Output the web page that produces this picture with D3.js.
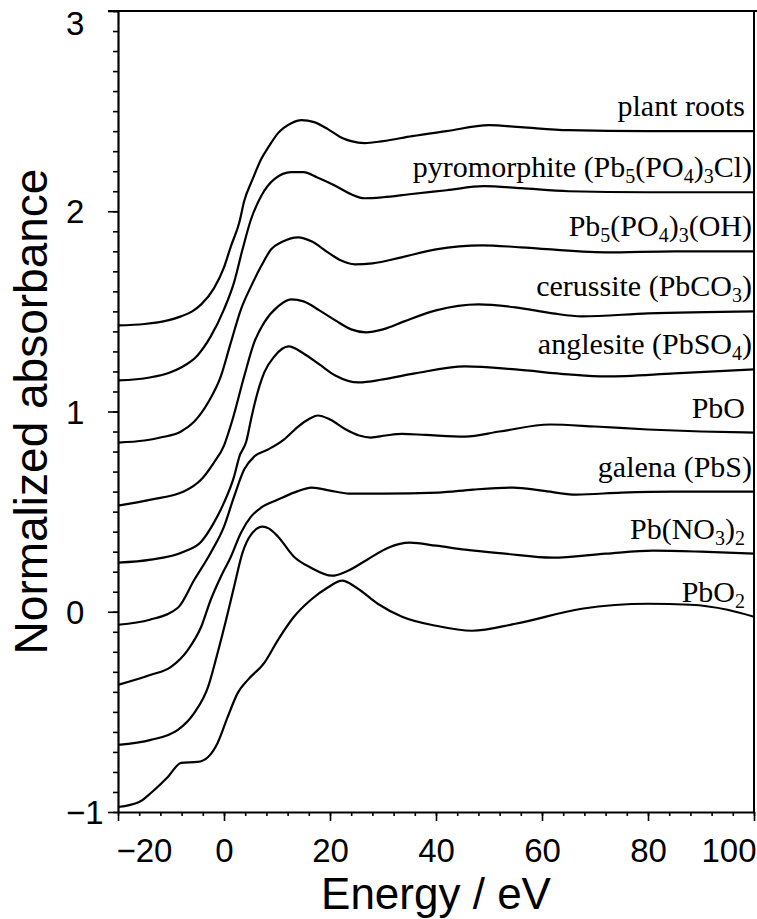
<!DOCTYPE html>
<html>
<head>
<meta charset="utf-8">
<script src="https://cdnjs.cloudflare.com/ajax/libs/d3/7.8.5/d3.min.js"></script>
<style>
body { margin: 0; background: #fff; }
</style>
</head>
<body>
<div id="chart-area"></div>
<script>
// Pb L3-edge XANES spectra, [energy / eV, normalized absorbance]
var plantRoots = [[-20,1.43],[-15,1.437],[-10.6,1.455],[-8.1,1.475],[-6,1.50],[-4.3,1.535],[-1.9,1.615],[0,1.72],[1.3,1.825],[2.9,1.945],[3.8,2.05],[5.4,2.16],[7,2.26],[8.5,2.325],[10.2,2.39],[12.7,2.44],[14.6,2.455],[17,2.445],[19.6,2.41],[22,2.37],[24,2.35],[26.5,2.34],[30,2.35],[35.5,2.375],[42,2.40],[50,2.43],[56,2.42],[65,2.405],[80,2.40],[100,2.40]];
var pyromorphite = [[-20,1.155],[-14,1.17],[-10.2,1.195],[-8.1,1.22],[-5,1.28],[-2.5,1.375],[0,1.51],[1.9,1.645],[3.5,1.81],[5.1,1.96],[7,2.075],[9.5,2.16],[12.7,2.195],[15,2.195],[17.5,2.17],[20.8,2.13],[24,2.085],[26.5,2.065],[30,2.07],[35,2.085],[42,2.105],[49,2.125],[56,2.115],[65,2.10],[80,2.095],[100,2.095]];
var hydroxypyromorphite = [[-20,0.845],[-15,0.855],[-12,0.87],[-8.1,0.90],[-5.6,0.95],[-3,1.045],[-0.6,1.175],[1.3,1.345],[3.2,1.51],[5.1,1.625],[7,1.725],[8.9,1.81],[10.8,1.845],[14,1.87],[16.5,1.85],[19.6,1.795],[22,1.755],[24.7,1.735],[28,1.74],[33.5,1.77],[40,1.81],[48.7,1.83],[56,1.82],[72,1.795],[85,1.80],[100,1.80]];
var cerussite = [[-20,0.53],[-13.8,0.56],[-7.6,0.60],[-4.3,0.66],[-1.9,0.745],[0,0.83],[1.5,0.95],[3.8,1.175],[5.7,1.345],[7.6,1.445],[10.2,1.525],[12.7,1.56],[15,1.55],[18,1.505],[21,1.455],[24,1.41],[26.8,1.395],[30,1.41],[34,1.45],[40,1.505],[48,1.535],[55,1.52],[62,1.49],[67.5,1.475],[80,1.49],[100,1.50]];
var anglesite = [[-20,0.245],[-13.8,0.26],[-7.6,0.30],[-4.3,0.35],[-1.9,0.445],[0,0.545],[1.9,0.675],[2.9,0.775],[4.2,0.85],[5.1,0.96],[5.7,1.03],[7.6,1.195],[9.5,1.275],[12.2,1.325],[15,1.29],[18,1.235],[21,1.18],[25.4,1.145],[30,1.16],[36,1.19],[45.5,1.225],[55,1.21],[65,1.185],[72,1.175],[85,1.19],[100,1.21]];
var pbo = [[-20,-0.065],[-14,-0.04],[-8.7,0.02],[-5.6,0.16],[-2.5,0.295],[0,0.425],[1.9,0.575],[3.8,0.71],[5.7,0.775],[8.3,0.81],[11.3,0.86],[14,0.925],[15.9,0.96],[17.7,0.98],[20,0.96],[23,0.91],[25.5,0.88],[27.7,0.87],[30.5,0.88],[33.6,0.888],[38,0.883],[45.5,0.875],[52,0.90],[61.5,0.935],[70,0.925],[80,0.91],[90,0.90],[100,0.895]];
var galena = [[-20,-0.365],[-13.8,-0.315],[-10,-0.275],[-6.8,-0.19],[-4.3,-0.075],[-2.5,0.06],[-0.6,0.175],[1.3,0.275],[3.2,0.395],[5.1,0.475],[7,0.52],[10.2,0.56],[13.2,0.595],[16.6,0.62],[20,0.605],[23.6,0.59],[30,0.59],[40.4,0.595],[47,0.61],[54.6,0.62],[60,0.605],[66.5,0.585],[75,0.595],[85,0.60],[100,0.60]];
var leadNitrate = [[-20,-0.665],[-13.8,-0.64],[-8.7,-0.59],[-5.6,-0.505],[-3,-0.375],[-1.2,-0.205],[0.4,-0.04],[1.9,0.125],[3.5,0.295],[5.1,0.385],[7.3,0.425],[8.5,0.415],[10.2,0.375],[13.2,0.275],[16.4,0.22],[20.4,0.18],[23,0.20],[27,0.26],[31,0.32],[35,0.345],[40,0.33],[45.5,0.31],[53,0.29],[62,0.27],[72,0.29],[81,0.305],[90,0.30],[100,0.29]];
var pbo2 = [[-20,-0.975],[-16,-0.95],[-13.8,-0.905],[-10.6,-0.825],[-8.1,-0.755],[-5,-0.75],[-3,-0.725],[-1.2,-0.655],[0.7,-0.525],[2.6,-0.405],[4.5,-0.34],[7.6,-0.255],[10.2,-0.14],[13.2,-0.025],[16.4,0.06],[19.5,0.12],[22.3,0.155],[25,0.12],[29,0.04],[33.6,-0.025],[40,-0.07],[46.8,-0.095],[55,-0.06],[67.5,0.015],[80,0.04],[88,0.035],[95,0.01],[100,-0.025]];

// "_n" marks a subscript digit
var names = ["plant roots", "pyromorphite (Pb_5(PO_4)_3Cl)", "Pb_5(PO_4)_3(OH)", "cerussite (PbCO_3)",
    "anglesite (PbSO_4)", "PbO", "galena (PbS)", "Pb(NO_3)_2", "PbO_2"];
var spectra = [plantRoots, pyromorphite, hydroxypyromorphite, cerussite, anglesite, pbo, galena, leadNitrate, pbo2];

var xMajor = [-20, 0, 20, 40, 60, 80, 100];
var yMajor = [-1, 0, 1, 2, 3];

var width = 757, height = 919;
var plotLeft = 118, plotRight = 754, plotTop = 11, plotBottom = 812;

var svg = d3.select("#chart-area")
    .append("svg")
    .attr("width", width)
    .attr("height", height);

var x = d3.scaleLinear().domain([-20, 100]).range([plotLeft, plotRight]);
var y = d3.scaleLinear().domain([-1, 3]).range([plotBottom, plotTop]);

// minor ticks first, then the labelled ones
svg.append("g")
    .attr("transform", "translate(0," + plotBottom + ")")
    .call(d3.axisBottom(x).tickValues(d3.range(-20, 101, 4)).tickSize(4).tickFormat(""))
    .call(function(g){ g.select(".domain").remove(); });
var xAxis = svg.append("g")
    .attr("transform", "translate(0," + plotBottom + ")")
    .call(d3.axisBottom(x).tickValues(xMajor).tickSize(9).tickPadding(18).tickSizeOuter(0));

svg.append("g")
    .attr("transform", "translate(" + plotLeft + ",0)")
    .call(d3.axisLeft(y).tickValues(d3.range(-10, 31).map(function(d){ return d / 10; })).tickSize(5).tickFormat(""))
    .call(function(g){ g.select(".domain").remove(); });
var yAxis = svg.append("g")
    .attr("transform", "translate(" + plotLeft + ",0)")
    .call(d3.axisLeft(y).tickValues(yMajor).tickSize(10).tickSizeOuter(0).tickFormat(d3.format("d")));

svg.selectAll(".tick line").attr("stroke", "#000").attr("stroke-width", 1.6);
svg.selectAll(".domain").attr("stroke", "#000").attr("stroke-width", 2.2);
svg.selectAll(".tick text")
    .attr("font-family", "'Liberation Sans', Arial, sans-serif")
    .attr("font-size", 33)
    .attr("fill", "#000");

xAxis.selectAll(".tick text")
    .attr("text-anchor", function(d){ return d === -20 ? "start" : d === 100 ? "end" : "middle"; })
    .attr("dx", function(d){ return d === -20 ? -2 : d === 100 ? 2 : 0; });
// y labels are set flush left in the original
yAxis.selectAll(".tick text")
    .attr("x", -52)
    .attr("text-anchor", "start")
    .attr("dy", function(d){ return d === 3 ? "0.7em" : "0.35em"; });

// frame: top and right edges
svg.append("line")
    .attr("x1", plotLeft - 10).attr("x2", width)
    .attr("y1", y(3)).attr("y2", y(3))
    .attr("stroke", "#000").attr("stroke-width", 2.2);
svg.append("line")
    .attr("x1", plotRight).attr("x2", plotRight)
    .attr("y1", y(3)).attr("y2", plotBottom)
    .attr("stroke", "#000").attr("stroke-width", 2);

var line = d3.line()
    .x(function(d){ return x(d[0]); })
    .y(function(d){ return y(d[1]); })
    .curve(d3.curveMonotoneX);

svg.selectAll("path.spectrum")
    .data(spectra)
    .enter()
    .append("path")
    .attr("class", "spectrum")
    .attr("d", line)
    .attr("fill", "none")
    .attr("stroke", "#000")
    .attr("stroke-width", 2.2)
    .attr("stroke-linejoin", "round");

// labels sit just above the flat right-hand end of each spectrum
var labels = svg.selectAll("text.name")
    .data(names)
    .enter()
    .append("text")
    .attr("class", "name")
    .attr("x", function(d){ return d.slice(-1) === ")" ? plotRight - 2 : plotRight - 9; })
    .attr("y", function(d, i){
        var s = spectra[i];
        return y(s[s.length - 1][1]) - 15;
    })
    .attr("text-anchor", "end")
    .attr("font-family", "'Liberation Serif', 'Times New Roman', serif")
    .attr("font-size", 30)
    .attr("fill", "#000");

labels.each(function(d){
    var t = d3.select(this);
    var shift = 0;
    d.split(/(_\d)/).forEach(function(p){
        if (!p) return;
        if (p.charAt(0) === "_") {
            t.append("tspan").attr("font-size", 20).attr("dy", 6 - shift).text(p.slice(1));
            shift = 6;
        } else {
            t.append("tspan").attr("dy", -shift).text(p);
            shift = 0;
        }
    });
});

svg.append("text")
    .attr("transform", "translate(47," + ((plotTop + plotBottom) / 2) + ") rotate(-90)")
    .attr("text-anchor", "middle")
    .attr("font-family", "'Liberation Sans', Arial, sans-serif")
    .attr("font-size", 46)
    .text("Normalized absorbance");

svg.append("text")
    .attr("x", (plotLeft + plotRight) / 2)
    .attr("y", 909)
    .attr("text-anchor", "middle")
    .attr("font-family", "'Liberation Sans', Arial, sans-serif")
    .attr("font-size", 44)
    .text("Energy / eV");
</script>
</body>
</html>
